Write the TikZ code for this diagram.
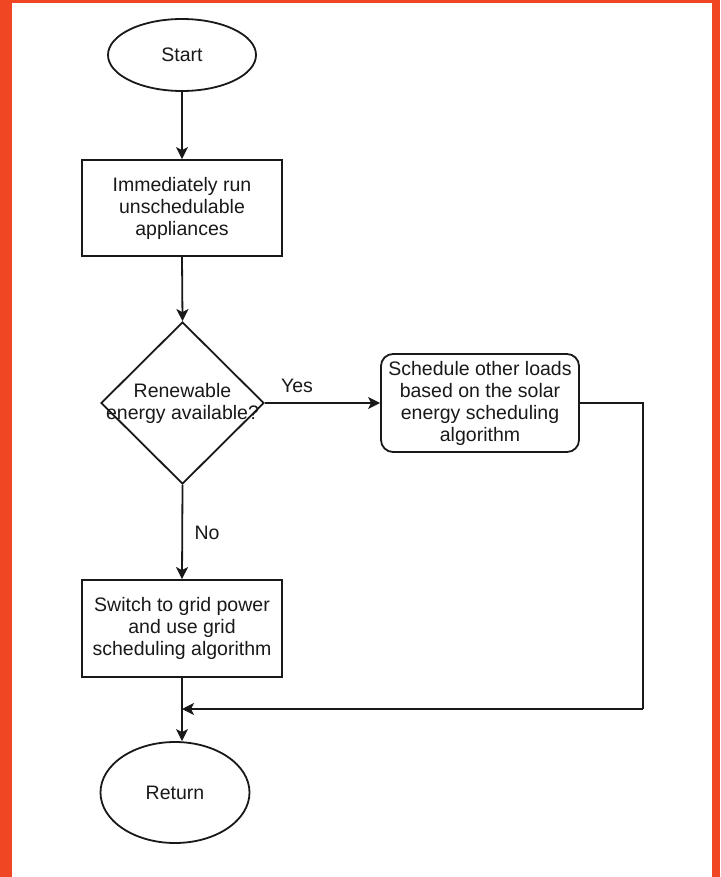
\documentclass[tikz,border=0pt]{standalone}
\usepackage{fontspec}
\setmainfont{Liberation Sans}
\usetikzlibrary{shapes.geometric,arrows.meta,calc}
\definecolor{frame}{RGB}{241,70,36}
\definecolor{ink}{RGB}{25,25,25}
\begin{document}
\begin{tikzpicture}[x=1pt,y=1pt,
  every node/.style={font=\fontsize{19.5}{22}\selectfont, text=ink, align=center, inner sep=0pt},
  shapeline/.style={draw=ink, line width=1.8pt},
  terminal/.style={shapeline, ellipse},
  procbox/.style={shapeline, rectangle, minimum width=200, minimum height=96},
  roundbox/.style={shapeline, rectangle, rounded corners=12, minimum width=198, minimum height=98},
  decision/.style={shapeline, diamond, minimum width=163, minimum height=162},
  conn/.style={draw=ink, line width=1.8pt},
  arr/.style={conn, -{Stealth[length=12pt,width=12pt,inset=3pt]}},
  lbl/.style={font=\fontsize{19.5}{22}\selectfont}
]
\useasboundingbox (0,0) rectangle (720,-877);
\fill[frame] (0,0) rectangle (720,-877);
\fill[white] (11.5,-3) rectangle (712,-877);

\node[terminal, minimum width=148, minimum height=72] (start) at (182,-55) {Start};
\node[procbox] (run) at (182,-208) {Immediately run\\unschedulable\\appliances};
\node[decision] (dec) at (182.5,-403) {};
\node (dectext) at (182.5,-403) {Renewable\\energy available?};
\node[roundbox] (sched) at (480,-403) {Schedule other loads\\based on the solar\\energy scheduling\\algorithm};
\node[procbox, minimum height=97] (grid) at (182,-628.5) {Switch to grid power\\and use grid\\scheduling algorithm};
\node[terminal, minimum width=149, minimum height=101] (ret) at (175,-792.5) {Return};

\coordinate (corner) at (643,-709);
\coordinate (join) at (grid.south |- corner);
\coordinate (retin) at (grid.south |- ret.north);

\draw[arr] (start.south) -- (run.north);
\draw[arr] (run.south) -- (dec.north);
\draw[arr] (dec.east) -- (sched.west);
\node[lbl] (yes) at (297,-386) {Yes};
\draw[arr] (dec.south) -- (grid.north);
\node[lbl] (no) at (207,-533) {No};
\draw[arr] (grid.south) -- (retin);
\draw[conn] (sched.east) -| (corner);
\draw[arr] (corner) -- (join);
\end{tikzpicture}
\end{document}
